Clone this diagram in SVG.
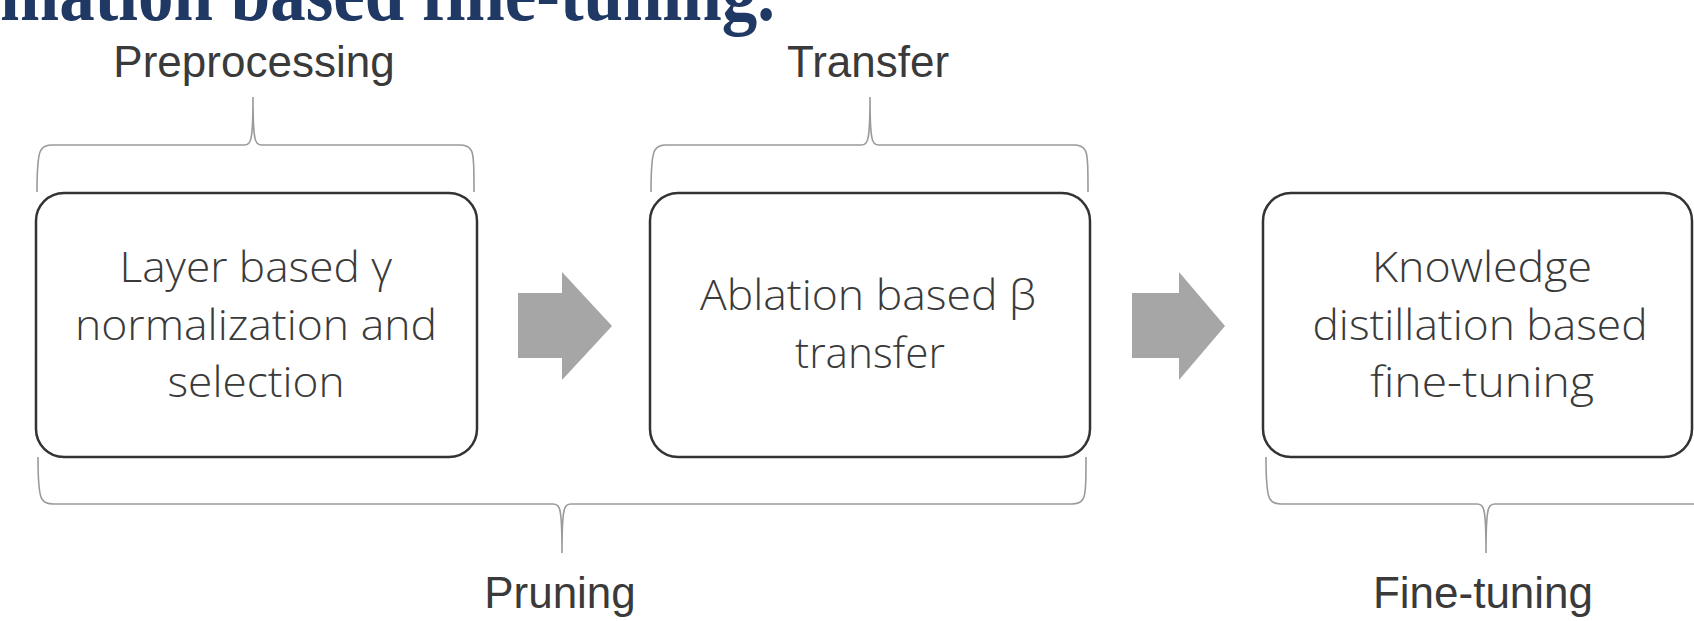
<svg xmlns="http://www.w3.org/2000/svg" width="1694" height="621" viewBox="0 0 1694 621">
  <style>
    .box { fill: #ffffff; stroke: #333333; stroke-width: 2.5; }
    .brace { fill: none; stroke: #9a9a9a; stroke-width: 1.6; }
    .arrow { fill: #a6a6a6; stroke: none; }
    .lbl { font-family: "Liberation Sans", Arial, sans-serif; font-size: 44px; fill: #3a3a3a; text-anchor: middle; }
    .btxt { font-family: "Open Sans", "Liberation Sans", sans-serif; font-weight: 300; font-size: 43px; fill: #3a3a3a; text-anchor: middle; }
    .title { font-family: "Liberation Serif", "Times New Roman", serif; font-weight: bold; font-size: 80px; fill: #1f3864; }
  </style>
  <rect width="1694" height="621" fill="#ffffff"/>
  <text class="title" x="0" y="20" textLength="775" lengthAdjust="spacingAndGlyphs">mation based fine-tuning.</text>

  <g id="labels">
    <text class="lbl" x="254" y="77">Preprocessing</text>
    <text class="lbl" x="868" y="77">Transfer</text>
    <text class="lbl" x="560" y="608">Pruning</text>
    <text class="lbl" x="1483" y="608">Fine-tuning</text>
  </g>

  <g id="connectors">
    <!-- top brace: Preprocessing -->
    <path class="brace" d="M37,192 C37,170 38,154 41,150 Q44,145 52,145 L244,145 Q250,145 251,138 Q253,130 253,97 Q253,130 255,138 Q256,145 262,145 L460,145 Q468,145 471,150 C474,154 474,170 474,192"/>
    <!-- top brace: Transfer -->
    <path class="brace" d="M651,192 C651,170 652,154 655,150 Q658,145 666,145 L861,145 Q867,145 868,138 Q870,130 870,97 Q870,130 872,138 Q873,145 879,145 L1074,145 Q1082,145 1085,150 C1088,154 1088,170 1088,192"/>
    <!-- bottom brace: Pruning -->
    <path class="brace" d="M38,457 C38,479 39,495 42,499 Q45,504 53,504 L553,504 Q559,504 560,511 Q562,519 562,553 Q562,519 564,511 Q565,504 571,504 L1072,504 Q1080,504 1083,499 C1086,495 1086,479 1086,457"/>
    <!-- bottom brace: Fine-tuning -->
    <path class="brace" d="M1266,457 C1266,479 1267,495 1270,499 Q1273,504 1281,504 L1477,504 Q1483,504 1484,511 Q1486,519 1486,553 Q1486,519 1488,511 Q1489,504 1495,504 L1700,504"/>
    <!-- block arrows -->
    <polygon class="arrow" points="518,293 562,293 562,272 612,326 562,380 562,358 518,358"/>
    <polygon class="arrow" points="1132,293 1179,293 1179,272 1225,326 1179,380 1179,358 1132,358"/>
  </g>

  <g id="node-layer">
    <rect class="box" x="36" y="193" width="441" height="264" rx="28" ry="28"/>
    <text class="btxt" x="256" y="282" textLength="273" lengthAdjust="spacingAndGlyphs">Layer based γ</text>
    <text class="btxt" x="256" y="340" textLength="362" lengthAdjust="spacingAndGlyphs">normalization and</text>
    <text class="btxt" x="256" y="397" textLength="177" lengthAdjust="spacingAndGlyphs">selection</text>
  </g>

  <g id="node-ablation">
    <rect class="box" x="650" y="193" width="440" height="264" rx="28" ry="28"/>
    <text class="btxt" x="868" y="310" textLength="336" lengthAdjust="spacingAndGlyphs">Ablation based β</text>
    <text class="btxt" x="870" y="368" textLength="150" lengthAdjust="spacingAndGlyphs">transfer</text>
  </g>

  <g id="node-kd">
    <rect class="box" x="1263" y="193" width="429" height="264" rx="28" ry="28"/>
    <text class="btxt" x="1482" y="282" textLength="220" lengthAdjust="spacingAndGlyphs">Knowledge</text>
    <text class="btxt" x="1480" y="340" textLength="335" lengthAdjust="spacingAndGlyphs">distillation based</text>
    <text class="btxt" x="1482" y="397" textLength="224" lengthAdjust="spacingAndGlyphs">fine-tuning</text>
  </g>
</svg>
